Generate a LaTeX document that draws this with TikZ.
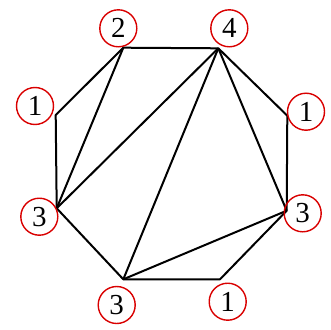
\documentclass[tikz,border=0pt]{standalone}
\usepackage{fontspec}
\setmainfont{Liberation Serif}
\begin{document}
\begin{tikzpicture}[x=1pt,y=-1pt,
  edge/.style={line width=2pt, line join=round},
  lab/.style={circle, draw=red!85!black, line width=1.4pt, minimum size=37pt, inner sep=0pt, font=\fontsize{29}{29}\selectfont}]
\useasboundingbox (0,0) rectangle (331,329);
\coordinate (a) at (123.3,47.7);
\coordinate (b) at (218.3,48.3);
\coordinate (c) at (287.3,115.7);
\coordinate (d) at (286.7,210.7);
\coordinate (e) at (220,279.3);
\coordinate (f) at (123.3,279.3);
\coordinate (g) at (56.7,208.3);
\coordinate (h) at (55.7,115);
\draw[edge] (a) -- (b) -- (c) -- (d) -- (e) -- (f) -- (g) -- (h) -- cycle;
\draw[edge] (a) -- (g);
\draw[edge] (b) -- (g);
\draw[edge] (b) -- (f);
\draw[edge] (b) -- (d);
\draw[edge] (d) -- (f);
\node[lab] (la) at (118.3,28.3) {2};
\node[lab] (lb) at (229.3,28.3) {4};
\node[lab] (lc) at (306,111.7) {1};
\node[lab] (ld) at (302.7,213.3) {3};
\node[lab] (le) at (227.7,301.7) {1};
\node[lab] (lf) at (116.7,305) {3};
\node[lab] (lg) at (39.3,216.7) {3};
\node[lab] (lh) at (35,106) {1};
\end{tikzpicture}
\end{document}
